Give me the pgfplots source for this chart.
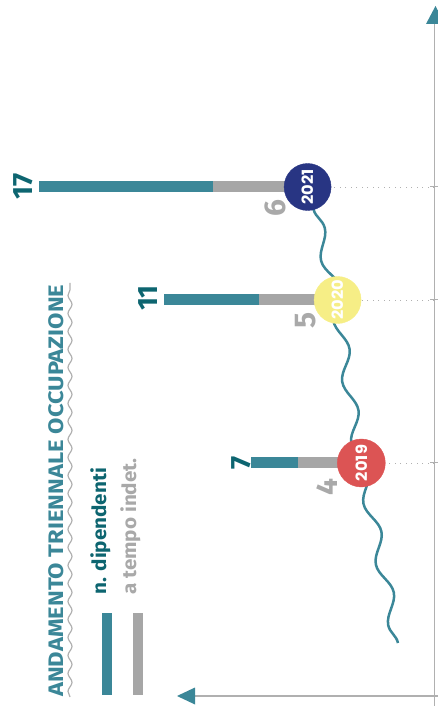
\documentclass[border=0pt]{standalone}
\usepackage{pgfplots}
\pgfplotsset{compat=1.18}
\usetikzlibrary{decorations.pathmorphing}
\usepackage{fontspec}
\setmainfont{Fira Sans}
\newfontfamily\titlefont{Fira Sans}[FakeStretch=1.13]
\newfontfamily\legfont{Fira Sans}[FakeStretch=1.06]
\newfontfamily\yearfont{Poppins}[FakeStretch=1.05]

\definecolor{barteal}{HTML}{3B8798}
\definecolor{darkteal}{HTML}{0D6570}
\definecolor{bargray}{HTML}{A6A6A6}
\definecolor{txtgray}{HTML}{A9A9A9}
\definecolor{axgray}{HTML}{B0B0B0}
\definecolor{navy}{HTML}{283583}
\definecolor{pyellow}{HTML}{F6EE86}
\definecolor{cred}{HTML}{DC5454}

\begin{document}
\begin{tikzpicture}[x=1pt, y=1pt]
\begin{axis}[hide axis, scale only axis, width=434pt, height=696pt,
  at={(0pt,0pt)}, anchor=south west,
  xmin=0, xmax=27.4684, ymin=0, ymax=696, x dir=reverse, clip=false]
% dotted guides + ticks on the right axis
\addplot[axgray, line width=0.9pt, dash pattern=on 1pt off 4.5pt] coordinates {(0,509) (8.0,509)};
\addplot[axgray, line width=0.9pt, dash pattern=on 1pt off 4.5pt] coordinates {(0,396) (6.1,396)};
\addplot[axgray, line width=0.9pt, dash pattern=on 1pt off 4.5pt] coordinates {(0,233) (4.6,233)};
\addplot[axgray, line width=1pt] coordinates {(0.25,509) (-0.25,509)};
\addplot[axgray, line width=1pt] coordinates {(0.25,396) (-0.25,396)};
\addplot[axgray, line width=1pt] coordinates {(0.25,233) (-0.25,233)};
% n. dipendenti
\addplot[barteal, line width=11pt] coordinates {(8.0,509) (25.0,509)};
\addplot[barteal, line width=11pt] coordinates {(6.1,396) (17.1,396)};
\addplot[barteal, line width=11pt] coordinates {(4.6,233) (11.6,233)};
% a tempo indeterminato
\addplot[bargray, line width=11pt] coordinates {(8.0,509) (14.0,509)};
\addplot[bargray, line width=11pt] coordinates {(6.1,396) (11.1,396)};
\addplot[bargray, line width=11pt] coordinates {(4.6,233) (8.6,233)};
% wavy trend line
\addplot[barteal, line width=2.5pt, decorate,
  decoration={snake, amplitude=6pt, segment length=62pt}]
  coordinates {(2.28,53) (4.6,233) (6.1,396) (8.0,509)};
% year circles
\addplot[cred, only marks, mark=*, mark size=24pt] coordinates {(4.6,233)};
\addplot[pyellow, only marks, mark=*, mark size=23.5pt] coordinates {(6.1,396)};
\addplot[navy, only marks, mark=*, mark size=23.5pt] coordinates {(8.0,509)};
\coordinate (c2019) at (axis cs:4.6,233);
\coordinate (c2020) at (axis cs:6.1,396);
\coordinate (c2021) at (axis cs:8.0,509);
\end{axis}

\tikzset{yr/.style={rotate=90, inner sep=0, text=white, font=\yearfont\bfseries\fontsize{15.5}{15.5}\selectfont}}
\node[yr] at (c2019) {2019};
\node[yr] at (c2020) {2020};
\node[yr] at (c2021) {2021};

% axes with arrows
\draw[axgray, line width=1.5pt] (434.5,-10) -- (434.5,673);
\fill[barteal] (426,672) -- (445,672) -- (435.5,690) -- cycle;
\draw[axgray, line width=1.5pt] (193,0) -- (438,0);
\fill[barteal] (195,8.5) -- (195,-8.5) -- (177,0) -- cycle;

% value labels
\tikzset{vt/.style={rotate=90, anchor=base, inner sep=0, text=darkteal, font=\bfseries\fontsize{28}{28}\selectfont},
         vg/.style={rotate=90, anchor=base, inner sep=0, text=txtgray, font=\bfseries\fontsize{30}{30}\selectfont}}
\node[vt] at (32,510) {17};
\node[vt] at (157,398) {11};
\node[vt] at (250,233.5) {7};
\node[vg] at (285,487.5) {6};
\node[vg] at (315,375.5) {5};
\node[vg] at (337,208.5) {4};

% title and legend
\node[rotate=90, anchor=base west, inner sep=0, text=barteal, font=\titlefont\bfseries\fontsize{21}{21}\selectfont] at (63,-1) {ANDAMENTO TRIENNALE OCCUPAZIONE};
\draw[axgray, line width=1.2pt, decorate, decoration={snake, amplitude=2pt, segment length=18pt}] (70,-1) -- (70,413);
\fill[barteal] (102,1) rectangle (112,83);
\fill[bargray] (133,1) rectangle (143,83);
\node[rotate=90, anchor=base west, inner sep=0, text=darkteal, font=\legfont\bfseries\fontsize{19.5}{19.5}\selectfont] at (106,101) {n. dipendenti};
\node[rotate=90, anchor=base west, inner sep=0, text=txtgray, font=\legfont\bfseries\fontsize{19.5}{19.5}\selectfont] at (136,101) {a tempo indet.};

\pgfresetboundingbox
\path (0,-10) rectangle (438,696);
\end{tikzpicture}
\end{document}
